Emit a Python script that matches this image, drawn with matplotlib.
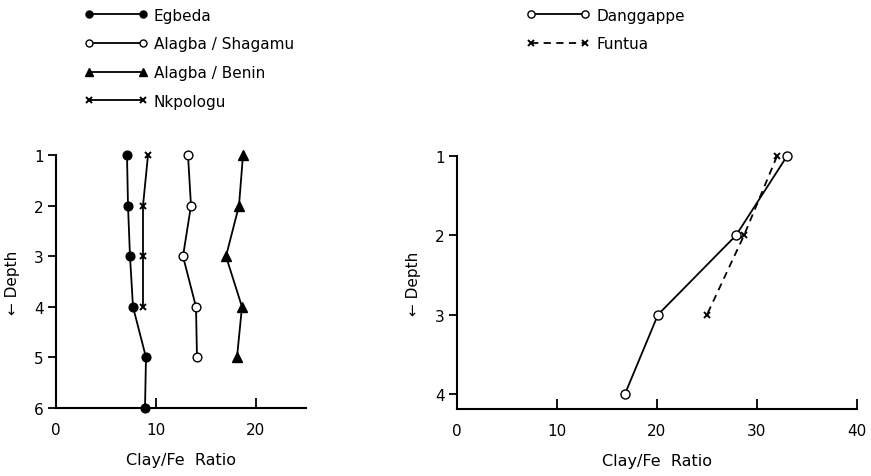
import matplotlib
matplotlib.use("Agg")
import matplotlib.pyplot as plt

# ── Data ──────────────────────────────────────────────────────────────────────
depth_left = [1, 2, 3, 4, 5, 6]
egbeda = [7.1, 7.2, 7.4, 7.7, 9.0, 8.9]
alagba_shagamu = [13.2, 13.5, 12.7, 14.0, 14.1]
alagba_benin = [18.7, 18.3, 17.0, 18.6, 18.1]
nkpologu = [9.2, 8.7, 8.7, 8.7]

depth_right = [1, 2, 3, 4]
danggappe = [33.0, 27.9, 20.1, 16.8]
funtua = [32.0, 28.7, 25.0]

left_xticks = [0, 10, 20]
right_xticks = [0, 10, 20, 30, 40]

plt.rcParams["font.family"] = ["DejaVu Sans"]
INK = "black"

fig = plt.figure(figsize=(8.71, 4.77), dpi=100)
ax1 = fig.add_axes([0.0643, 0.1426, 0.287, 0.530])
ax2 = fig.add_axes([0.5247, 0.1405, 0.4592, 0.530])

common = dict(color=INK, linewidth=1.3, clip_on=False)
ax1.plot(egbeda, depth_left[:len(egbeda)], marker="o", markersize=6.3,
         markerfacecolor=INK, label="Egbeda", **common)
ax1.plot(alagba_shagamu, depth_left[:len(alagba_shagamu)], marker="o", markersize=6.3,
         markerfacecolor="white", label="Alagba / Shagamu", **common)
ax1.plot(alagba_benin, depth_left[:len(alagba_benin)], marker="^", markersize=7.5,
         markerfacecolor=INK, label="Alagba / Benin", **common)
ax1.plot(nkpologu, depth_left[:len(nkpologu)], marker="x", markersize=5,
         markeredgewidth=1.4, label="Nkpologu", **common)

ax2.plot(danggappe, depth_right[:len(danggappe)], marker="o", markersize=6.5,
         markerfacecolor="white", label="Danggappe", **common)
ax2.plot(funtua, depth_right[:len(funtua)], marker="x", markersize=5,
         markeredgewidth=1.4, linestyle=(0, (4, 3)), label="Funtua", **common)

ax1.set_xlim(0, 25)
ax1.set_ylim(6, 1)
ax1.set_xticks(left_xticks)
ax1.set_yticks(depth_left)

ax2.set_xlim(0, 40)
ax2.set_ylim(4.19, 1)
ax2.set_xticks(right_xticks)
ax2.set_yticks(depth_right)

for ax in (ax1, ax2):
    for s in ("top", "right"):
        ax.spines[s].set_visible(False)
    for s in ("left", "bottom"):
        ax.spines[s].set_linewidth(1.5)
        ax.spines[s].set_color(INK)
    ax.tick_params(axis="x", direction="in", length=7, width=1.3,
                   labelsize=11, pad=10, colors=INK)
    ax.tick_params(axis="y", direction="out", length=6, width=1.3,
                   labelsize=11, pad=3, colors=INK)
    ax.set_xlabel("Clay/Fe  Ratio", fontsize=11.5, labelpad=11)
    ax.set_ylabel("\u2190 Depth", fontsize=11, labelpad=10)

# key at the top, two blocks like the original
key = dict(loc="upper left", frameon=False, numpoints=2, markerscale=0.8,
           handlelength=4.13, handletextpad=0.42, labelspacing=0.9,
           fontsize=11)
fig.legend(handles=ax1.get_lines(), bbox_to_anchor=(0.081, 1.011), **key)
fig.legend(handles=ax2.get_lines(), bbox_to_anchor=(0.589, 1.011), **key)

fig.savefig("out.png", dpi=100, facecolor="white")
